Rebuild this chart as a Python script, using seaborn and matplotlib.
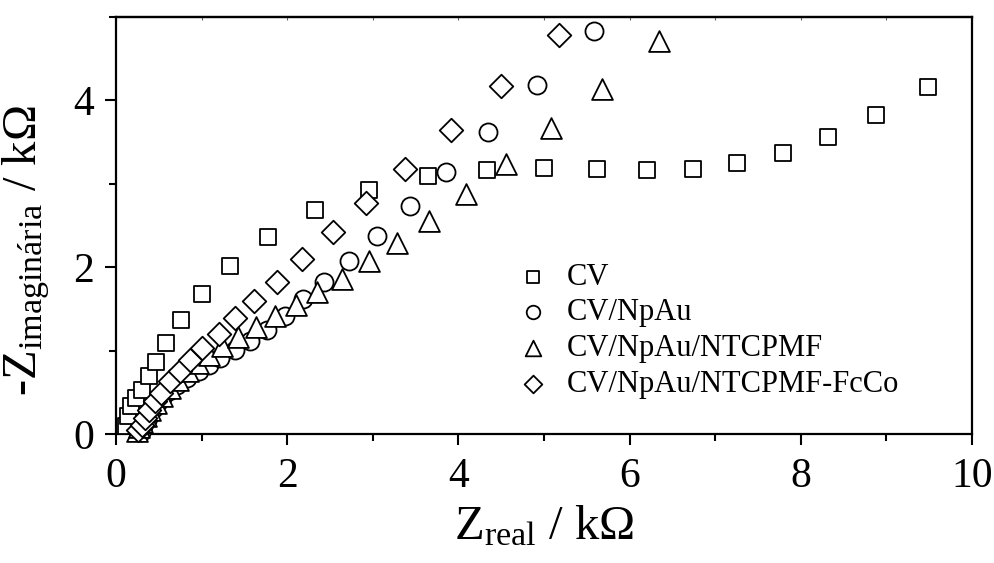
import matplotlib
matplotlib.use("Agg")
import matplotlib.pyplot as plt
from matplotlib.ticker import MultipleLocator
import seaborn as sns

# Nyquist data (kΩ) for the four electrodes
series_names = ["CV", "CV/NpAu", "CV/NpAu/NTCPMF", "CV/NpAu/NTCPMF-FcCo"]

cv_real = [0.12, 0.14, 0.18, 0.23, 0.30, 0.39, 0.47, 0.58, 0.76, 1.00, 1.33, 1.78,
           2.32, 2.96, 3.64, 4.33, 5.00, 5.62, 6.20, 6.74, 7.26, 7.79, 8.32, 8.88, 9.49]
cv_imag = [0.09, 0.21, 0.33, 0.43, 0.53, 0.69, 0.86, 1.09, 1.37, 1.68, 2.02, 2.36,
           2.69, 2.92, 3.09, 3.17, 3.19, 3.18, 3.17, 3.18, 3.25, 3.37, 3.56, 3.82, 4.16]

npau_real = [0.29, 0.30, 0.32, 0.34, 0.37, 0.40, 0.44, 0.49, 0.55, 0.62, 0.71, 0.83,
             0.97, 1.09, 1.22, 1.39, 1.57, 1.76, 1.97, 2.18, 2.43, 2.72, 3.05, 3.43,
             3.86, 4.35, 4.92, 5.58]
npau_imag = [0.02, 0.05, 0.09, 0.14, 0.19, 0.25, 0.31, 0.38, 0.45, 0.52, 0.59, 0.67,
             0.75, 0.83, 0.91, 1.01, 1.12, 1.25, 1.41, 1.62, 1.82, 2.08, 2.37, 2.73,
             3.14, 3.62, 4.18, 4.83]

ntc_real = [0.24, 0.27, 0.30, 0.35, 0.40, 0.47, 0.54, 0.63, 0.73, 0.84, 0.96, 1.09,
            1.24, 1.42, 1.63, 1.86, 2.10, 2.35, 2.64, 2.95, 3.28, 3.66, 4.09, 4.56,
            5.08, 5.68, 6.34]
ntc_imag = [0.03, 0.08, 0.14, 0.21, 0.29, 0.37, 0.46, 0.55, 0.65, 0.75, 0.85, 0.95,
            1.05, 1.16, 1.28, 1.41, 1.55, 1.70, 1.86, 2.07, 2.29, 2.55, 2.88, 3.24,
            3.67, 4.14, 4.71]

fcco_real = [0.26, 0.30, 0.34, 0.39, 0.46, 0.53, 0.63, 0.75, 0.87, 1.01, 1.20, 1.39,
             1.61, 1.88, 2.17, 2.53, 2.92, 3.38, 3.91, 4.50, 5.18]
fcco_imag = [0.05, 0.11, 0.19, 0.29, 0.39, 0.49, 0.63, 0.76, 0.89, 1.03, 1.20, 1.39,
             1.59, 1.82, 2.10, 2.42, 2.77, 3.18, 3.65, 4.17, 4.78]

x_ticks = [0, 2, 4, 6, 8, 10]
y_ticks = [0, 2, 4]

sns.set_theme(style="ticks")
plt.rcParams["font.family"] = ["Liberation Serif", "DejaVu Serif"]
plt.rcParams["mathtext.fontset"] = "custom"
plt.rcParams["mathtext.rm"] = "Liberation Serif"
plt.rcParams["mathtext.it"] = "Liberation Serif:italic"
plt.rcParams["text.color"] = "black"
plt.rcParams["axes.labelcolor"] = "black"
plt.rcParams["xtick.color"] = "black"
plt.rcParams["ytick.color"] = "black"

fig = plt.figure(figsize=(9.95, 5.63), dpi=100)
ax = fig.add_axes([116 / 995, 1 - 434 / 563, (972 - 116) / 995, (434 - 17) / 563])

styles = {
    "CV": ("s", 12),
    "CV/NpAu": ("o", 13),
    "CV/NpAu/NTCPMF": ("^", 15),
    "CV/NpAu/NTCPMF-FcCo": ("D", 12),
}
data = {
    "CV": (cv_real, cv_imag),
    "CV/NpAu": (npau_real, npau_imag),
    "CV/NpAu/NTCPMF": (ntc_real, ntc_imag),
    "CV/NpAu/NTCPMF-FcCo": (fcco_real, fcco_imag),
}

for i, name in enumerate(series_names):
    xs, ys = data[name]
    marker, ms = styles[name]
    sns.scatterplot(x=xs, y=ys, marker=marker, s=ms ** 2, color="white",
                    edgecolor="black", linewidth=1.3, ax=ax, label=name,
                    zorder=3 + i, clip_on=False)

ax.set_xlim(0, 10)
ax.set_ylim(0, 5)
ax.set_xticks(x_ticks)
ax.set_yticks(y_ticks)
ax.xaxis.set_minor_locator(MultipleLocator(1))
ax.yaxis.set_minor_locator(MultipleLocator(1))
ax.tick_params(axis="both", which="major", direction="out", length=8, width=1.5,
               labelsize=30, colors="black")
ax.tick_params(axis="x", which="major", pad=9)
ax.tick_params(axis="y", which="major", pad=8)
ax.tick_params(axis="both", which="minor", direction="out", length=5, width=1.5)
for spine in ax.spines.values():
    spine.set_visible(True)
    spine.set_linewidth(1.6)
    spine.set_color("black")

# small inward marks along the top edge
sec = ax.secondary_xaxis("top")
sec.set_xticks(list(range(0, 11)))
sec.tick_params(direction="in", length=2, width=0.8, labeltop=False, color="0.4")
sec.spines["top"].set_linewidth(1.6)

ax.set_xlabel(r"$\mathregular{Z_{real}}$ / kΩ", fontsize=35)
ax.set_ylabel(r"-$\mathregular{Z_{imaginária}}$ / kΩ", fontsize=35)
ax.xaxis.set_label_coords(0.5, -0.17)
ax.yaxis.set_label_coords(-0.075, 0.44)

ax.legend(loc="upper left", bbox_to_anchor=(0.455, 0.44), frameon=False,
          fontsize=22, markerscale=0.75, handletextpad=0.6, labelspacing=0.22,
          borderaxespad=0, handlelength=1.0)

fig.savefig("out.png", dpi=100)
